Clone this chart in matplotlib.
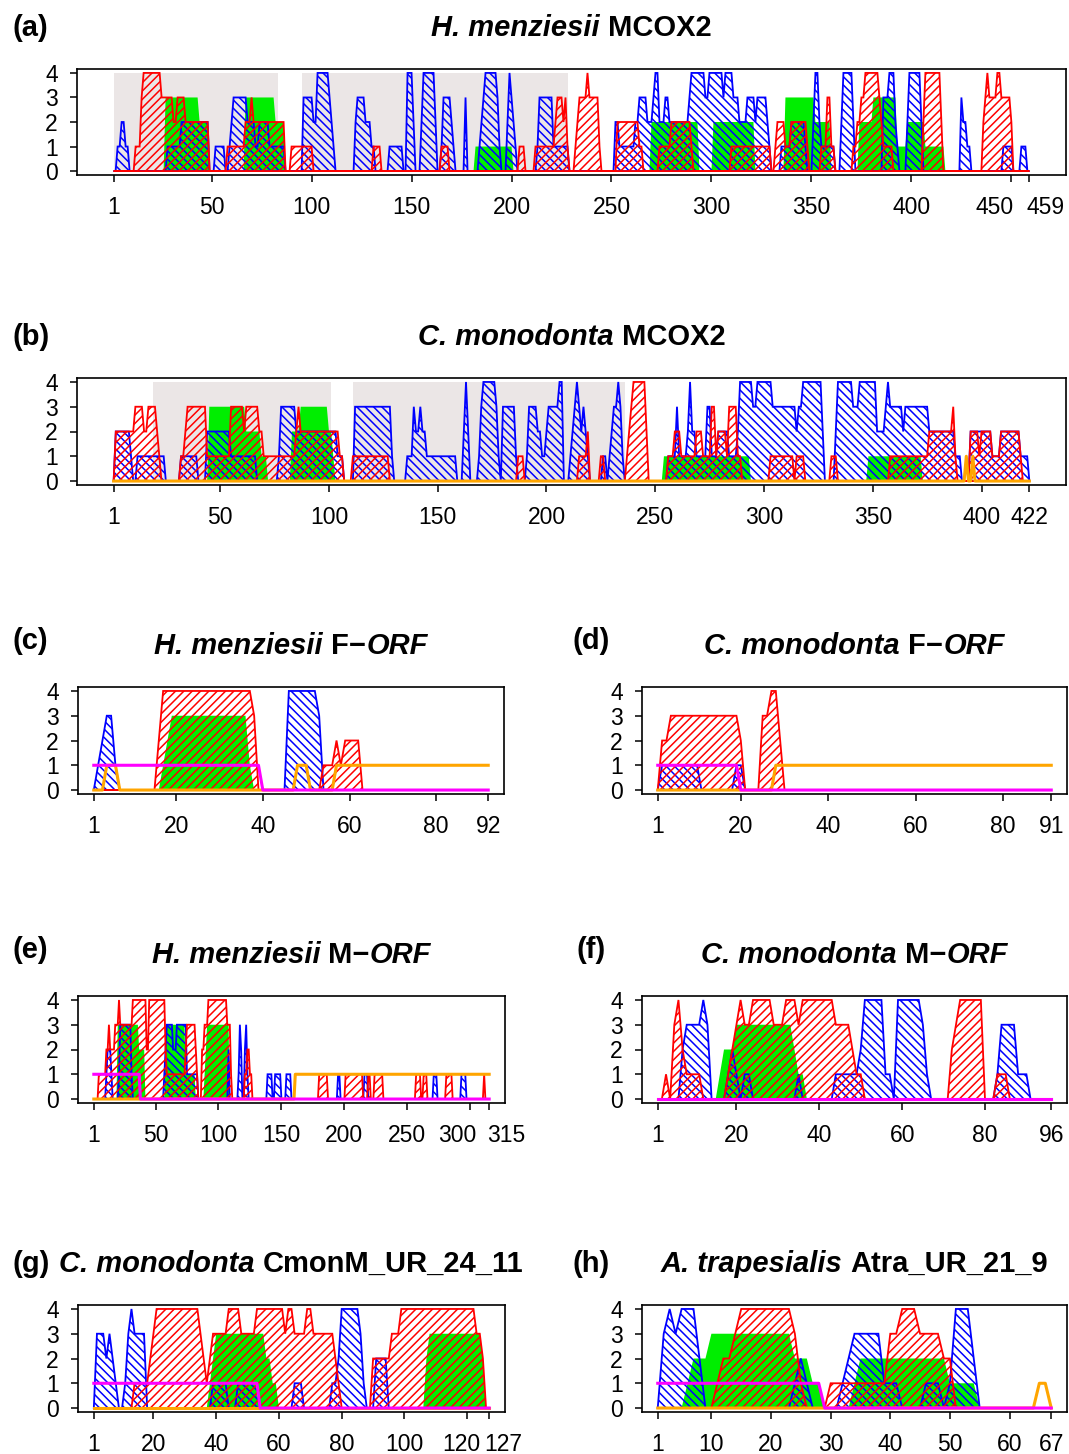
import numpy as np
import matplotlib
matplotlib.use("Agg")
import matplotlib.pyplot as plt
from matplotlib.transforms import ScaledTranslation

plt.rcParams['font.family'] = ['Liberation Sans', 'DejaVu Sans']
plt.rcParams['hatch.linewidth'] = 1.1

W, H, DPI = 1069, 1454, 100

# ------------------------------------------------------------------ data
# runs: (first position, last position, value); positions not covered are 0

# (a) H. menziesii MCOX2
A_N = 459
A_TICKS = [1, 50, 100, 150, 200, 250, 300, 350, 400, 450, 459]
A_GRAY = [(1, 83), (95, 228)]
A_BLUE = [(3, 4, 1), (5, 6, 2), (7, 8, 1),
          (28, 34, 1), (35, 48, 2), (52, 56, 1),
          (59, 59, 1), (60, 60, 2), (61, 67, 3), (68, 71, 2), (72, 73, 1), (74, 78, 2), (79, 86, 1),
          (96, 100, 3), (101, 102, 2), (103, 108, 4), (109, 109, 3), (110, 110, 2), (111, 111, 1),
          (122, 122, 2), (123, 126, 3), (127, 129, 2), (130, 131, 1),
          (139, 145, 1), (148, 150, 4), (151, 151, 2),
          (155, 155, 2), (156, 161, 4), (162, 162, 2),
          (165, 165, 1), (166, 169, 3), (170, 170, 2), (171, 171, 1),
          (177, 177, 3),
          (184, 184, 1), (185, 185, 2), (186, 186, 3), (187, 192, 4), (193, 193, 3), (194, 194, 1),
          (198, 198, 2), (199, 199, 4), (200, 200, 3), (201, 201, 2), (202, 202, 1),
          (213, 213, 1), (214, 220, 3), (221, 228, 1),
          (252, 253, 2), (254, 261, 1), (262, 263, 2), (264, 267, 3), (268, 270, 2), (271, 271, 3),
          (272, 273, 4), (274, 276, 2), (277, 278, 3), (279, 288, 2), (289, 289, 3), (290, 296, 4),
          (297, 298, 3), (299, 305, 4), (306, 306, 3), (307, 310, 4), (311, 313, 3), (314, 317, 2),
          (318, 321, 3), (322, 322, 2), (323, 327, 3), (328, 328, 2), (329, 329, 1),
          (335, 339, 1), (340, 346, 2), (347, 347, 1),
          (351, 351, 2), (352, 353, 4), (354, 354, 2), (355, 361, 1),
          (365, 365, 2), (366, 370, 4), (371, 371, 2),
          (386, 388, 3), (389, 391, 4), (392, 392, 2), (393, 393, 1),
          (398, 398, 2), (399, 404, 4), (405, 405, 2),
          (425, 425, 3), (426, 427, 2), (428, 429, 1),
          (446, 450, 1), (455, 457, 1)]
A_RED = [(12, 14, 1), (15, 15, 3), (16, 24, 4), (25, 30, 3), (31, 32, 2), (33, 36, 3), (37, 48, 2),
         (58, 66, 1), (67, 69, 2), (70, 70, 3), (71, 86, 2),
         (90, 100, 1), (131, 134, 1), (165, 168, 1), (204, 206, 1),
         (212, 221, 1), (222, 222, 2), (223, 225, 3), (226, 226, 2), (227, 227, 3), (228, 228, 1),
         (232, 232, 1), (233, 233, 2), (234, 237, 3), (238, 238, 4), (239, 243, 3), (244, 244, 1),
         (253, 263, 2), (264, 265, 1),
         (274, 279, 1), (280, 289, 2), (290, 290, 1), (310, 329, 1),
         (332, 332, 1), (333, 336, 2), (337, 339, 1), (340, 347, 2), (348, 348, 1),
         (355, 357, 1), (358, 359, 3), (360, 361, 1),
         (371, 372, 1), (373, 374, 2), (375, 376, 3), (377, 383, 4), (384, 384, 3), (385, 385, 2), (386, 390, 1),
         (406, 406, 2), (407, 414, 4), (415, 415, 2),
         (436, 436, 2), (437, 437, 3), (438, 438, 4), (439, 442, 3), (443, 444, 4), (445, 449, 3), (450, 450, 2)]
A_GREEN = [(27, 43, 3), (44, 48, 2), (67, 81, 3), (82, 86, 2), (182, 200, 1),
           (270, 293, 2), (301, 321, 2), (337, 351, 3), (352, 359, 2),
           (374, 380, 2), (381, 392, 3), (393, 397, 1), (398, 406, 2), (407, 416, 1)]

# (b) C. monodonta MCOX2
B_N = 422
B_TICKS = [1, 50, 100, 150, 200, 250, 300, 350, 400, 422]
B_GRAY = [(19, 101), (111, 236)]
B_BLUE = [(2, 8, 2), (9, 9, 1), (12, 24, 1), (32, 39, 1), (44, 54, 2), (55, 66, 1),
          (77, 77, 1), (78, 84, 3), (85, 103, 2), (104, 106, 1),
          (112, 128, 3), (129, 129, 1),
          (136, 138, 1), (139, 139, 3), (140, 141, 2), (142, 142, 3), (143, 144, 2), (145, 158, 1),
          (162, 162, 2), (163, 163, 4), (164, 164, 2),
          (169, 169, 1), (170, 170, 3), (171, 176, 4), (177, 177, 3), (178, 178, 1),
          (180, 185, 3), (186, 186, 1),
          (191, 191, 1), (192, 195, 3), (196, 197, 2), (198, 199, 1), (200, 200, 2), (201, 205, 3), (206, 207, 4),
          (211, 211, 1), (212, 212, 2), (213, 213, 3), (214, 214, 4), (215, 215, 3), (216, 216, 2),
          (217, 217, 3), (218, 218, 2), (219, 219, 1),
          (226, 227, 1), (229, 229, 1), (230, 230, 2), (231, 232, 3), (233, 233, 4), (234, 234, 3), (235, 235, 1),
          (256, 259, 1), (260, 260, 3), (261, 264, 1), (265, 265, 2), (266, 266, 4), (267, 268, 2),
          (269, 273, 1), (274, 275, 3), (276, 278, 1), (279, 283, 2), (284, 287, 1), (288, 288, 2),
          (289, 294, 4), (295, 296, 3), (297, 303, 4), (304, 314, 3), (315, 315, 2), (316, 317, 3),
          (318, 326, 4), (327, 327, 2),
          (333, 333, 2), (334, 340, 4), (341, 343, 3), (344, 351, 4), (352, 355, 2), (356, 356, 3),
          (357, 357, 4), (358, 363, 3), (364, 364, 2), (365, 375, 3), (376, 387, 2), (388, 390, 1),
          (395, 404, 2), (405, 408, 1), (409, 417, 2), (418, 421, 1)]
B_RED = [(2, 10, 2), (11, 14, 3), (15, 16, 2), (17, 20, 3), (21, 21, 2), (22, 22, 1),
         (32, 33, 1), (34, 34, 2), (35, 43, 3), (44, 54, 1), (55, 60, 3), (61, 61, 2), (62, 67, 3),
         (68, 69, 2), (70, 84, 1), (85, 85, 2), (86, 86, 3), (87, 104, 2), (105, 106, 1),
         (111, 127, 1), (187, 189, 1), (215, 218, 1), (219, 219, 2), (225, 226, 1),
         (237, 237, 1), (238, 238, 2), (239, 239, 3), (240, 245, 4), (246, 246, 2),
         (256, 258, 1), (259, 261, 2), (262, 268, 1), (269, 271, 2), (272, 275, 1), (276, 277, 3),
         (278, 278, 1), (279, 282, 2), (283, 283, 1), (284, 287, 3), (288, 289, 1),
         (303, 313, 1), (315, 318, 1), (331, 333, 1),
         (358, 375, 1), (376, 386, 2), (387, 387, 3), (388, 388, 1),
         (395, 398, 2), (399, 399, 1), (400, 404, 2), (405, 408, 1), (409, 417, 2), (418, 418, 1)]
B_GREEN = [(45, 61, 3), (62, 68, 2), (69, 71, 1), (83, 86, 2), (87, 99, 3), (100, 101, 2), (102, 102, 1),
           (254, 293, 1), (348, 372, 1)]
B_ORANGE = [(393, 393, 1), (396, 396, 1)]

# (c) H. menziesii F-ORF
C_N = 92
C_TICKS = [1, 20, 40, 60, 80, 92]
C_BLUE = [(2, 2, 1), (3, 3, 2), (4, 5, 3), (6, 6, 1), (46, 52, 4), (53, 53, 3)]
C_RED = [(16, 16, 2), (17, 37, 4), (38, 38, 3), (54, 56, 1), (57, 57, 2), (58, 58, 1), (59, 62, 2)]
C_GREEN = [(17, 17, 1), (18, 18, 2), (19, 36, 3), (37, 37, 1)]
C_ORANGE = [(4, 6, 1), (48, 50, 1), (57, 92, 1)]
C_MAGENTA = [(1, 39, 1)]

# (d) C. monodonta F-ORF
D_N = 91
D_TICKS = [1, 20, 40, 60, 80, 91]
D_BLUE = [(2, 10, 1), (19, 20, 1)]
D_RED = [(2, 3, 2), (4, 19, 3), (20, 20, 2), (25, 26, 3), (27, 28, 4), (29, 29, 2)]
D_GREEN = []
D_ORANGE = [(28, 91, 1)]
D_MAGENTA = [(1, 19, 1)]

# (e) H. menziesii M-ORF
E_N = 315
E_TICKS = [1, 50, 100, 150, 200, 250, 300, 315]
E_BLUE = [(11, 11, 1), (12, 14, 2), (15, 15, 1), (21, 21, 1), (22, 30, 3), (31, 31, 1),
          (57, 57, 1), (58, 58, 2), (59, 63, 3), (64, 66, 2), (67, 74, 3), (75, 83, 1),
          (108, 108, 2), (116, 116, 1), (117, 117, 3), (118, 118, 2), (121, 121, 2), (122, 122, 3), (123, 123, 1),
          (139, 142, 1), (145, 149, 1), (154, 157, 1), (195, 196, 1), (216, 218, 1),
          (271, 273, 1), (293, 296, 1)]
E_RED = [(5, 10, 1), (11, 12, 2), (13, 13, 3), (14, 17, 2), (18, 20, 3), (21, 21, 4), (22, 29, 3),
         (30, 31, 3), (32, 42, 4), (43, 44, 2), (45, 57, 4), (58, 58, 2), (59, 73, 1), (74, 74, 2),
         (75, 81, 3), (82, 82, 2), (83, 83, 1),
         (87, 88, 2), (89, 91, 3), (92, 106, 4), (107, 109, 3), (110, 110, 1),
         (121, 122, 1), (123, 124, 2), (125, 126, 1),
         (180, 186, 1), (201, 214, 1), (219, 220, 1), (224, 230, 1), (257, 260, 1), (263, 265, 1),
         (281, 285, 1), (311, 311, 1)]
E_GREEN = [(20, 36, 3), (37, 41, 2), (58, 73, 3), (74, 81, 1), (89, 89, 1), (90, 90, 2), (91, 108, 3)]
E_ORANGE = [(161, 315, 1)]
E_MAGENTA = [(1, 37, 1)]

# (f) C. monodonta M-ORF
F_N = 96
F_TICKS = [1, 20, 40, 60, 80, 96]
F_BLUE = [(7, 7, 2), (8, 11, 3), (12, 12, 4), (13, 13, 3),
          (18, 18, 1), (19, 19, 2), (20, 20, 1), (22, 23, 1), (35, 35, 1),
          (44, 49, 1), (50, 50, 2), (51, 55, 4), (56, 57, 1),
          (59, 64, 4), (65, 65, 3), (66, 66, 1),
          (83, 83, 1), (84, 87, 3), (88, 90, 1)]
F_RED = [(3, 3, 1), (5, 5, 3), (6, 6, 4), (7, 7, 2), (8, 11, 1),
         (18, 18, 1), (19, 19, 2), (20, 20, 3), (21, 21, 4), (22, 23, 3), (24, 28, 4), (29, 31, 3),
         (32, 34, 4), (35, 35, 3), (36, 43, 4), (44, 47, 3), (48, 48, 2), (49, 50, 1),
         (72, 72, 2), (73, 73, 3), (74, 79, 4), (83, 85, 1)]
F_GREEN = [(16, 16, 1), (17, 19, 2), (20, 33, 3), (34, 34, 2), (35, 36, 1)]
F_ORANGE = []
F_MAGENTA = []

# (g) C. monodonta CmonM_UR_24_11
G_N = 127
G_TICKS = [1, 20, 40, 60, 80, 100, 120, 127]
G_BLUE = [(2, 4, 3), (5, 5, 2), (6, 6, 3), (7, 7, 2), (8, 8, 1),
          (11, 11, 1), (12, 12, 3), (13, 13, 4), (14, 17, 3),
          (39, 43, 1), (47, 53, 1), (65, 67, 1),
          (77, 78, 1), (79, 79, 2), (80, 85, 4), (86, 86, 3), (87, 87, 1), (91, 94, 2)]
G_RED = [(14, 18, 1), (19, 19, 2), (20, 20, 3), (21, 34, 4), (35, 35, 3), (36, 36, 2), (37, 37, 1),
         (38, 38, 2), (39, 43, 3), (44, 47, 4), (48, 52, 3), (53, 61, 4), (62, 62, 3), (63, 64, 4),
         (65, 68, 3), (69, 70, 4), (71, 77, 3), (78, 78, 2), (79, 79, 1),
         (90, 95, 2), (96, 98, 3), (99, 122, 4), (123, 124, 3), (125, 125, 2)]
G_GREEN = [(38, 38, 1), (39, 39, 2), (40, 55, 3), (56, 57, 2), (58, 59, 1),
           (107, 107, 2), (108, 124, 3), (125, 125, 2)]
G_ORANGE = []
G_MAGENTA = [(1, 53, 1)]

# (h) A. trapesialis Atra_UR_21_9
H_N = 67
H_TICKS = [1, 10, 20, 30, 40, 50, 60, 67]
H_BLUE = [(2, 2, 3), (3, 3, 4), (4, 4, 3), (5, 7, 4), (8, 8, 2),
          (24, 24, 1), (25, 25, 2), (26, 26, 1),
          (32, 32, 1), (33, 33, 2), (34, 38, 3), (39, 41, 1),
          (46, 48, 1), (50, 50, 1), (51, 53, 4), (54, 54, 2)]
H_RED = [(11, 11, 1), (12, 13, 2), (14, 14, 3), (15, 23, 4), (24, 24, 3), (25, 25, 1),
         (30, 39, 1), (40, 41, 3), (42, 44, 4), (45, 48, 3), (49, 50, 2)]
H_GREEN = [(6, 6, 1), (7, 9, 2), (10, 23, 3), (24, 26, 2), (27, 28, 1),
           (34, 34, 1), (35, 49, 2), (50, 54, 1)]
H_ORANGE = [(65, 66, 1)]
H_MAGENTA = [(1, 28, 1)]

MINUS = "\u2212"
TITLES = {
    'a': [("H. menziesii", True), (" ", False), ("MCOX2", False)],
    'b': [("C. monodonta", True), (" ", False), ("MCOX2", False)],
    'c': [("H. menziesii", True), (" ", False), ("F" + MINUS, False), ("ORF", True)],
    'd': [("C. monodonta", True), (" ", False), ("F" + MINUS, False), ("ORF", True)],
    'e': [("H. menziesii", True), (" ", False), ("M" + MINUS, False), ("ORF", True)],
    'f': [("C. monodonta", True), (" ", False), ("M" + MINUS, False), ("ORF", True)],
    'g': [("C. monodonta", True), (" ", False), ("CmonM_UR_24_11", False)],
    'h': [("A. trapesialis", True), (" ", False), ("Atra_UR_21_9", False)],
}

# ------------------------------------------------------------------ style / layout
GRAY = '#ebe6e6'
GREEN = '#00ee00'
BLUE = '#0000ff'
RED = '#ff0000'
ORANGE = '#ffa500'
MAGENTA = '#ff00ff'
TICK_FS = 16.5
TITLE_FS = 21

PANELS = [
    dict(k='a', n=A_N, ticks=A_TICKS, gray=A_GRAY, blue=A_BLUE, red=A_RED, green=A_GREEN,
         orange=None, magenta=None, box=(77, 69, 1066, 175), labx=12, labdy=0, tdx={450: -17, 459: 16}),
    dict(k='b', n=B_N, ticks=B_TICKS, gray=B_GRAY, blue=B_BLUE, red=B_RED, green=B_GREEN,
         orange=B_ORANGE, magenta=None, box=(77, 378, 1066, 485), labx=12, labdy=0, tdx={}),
    dict(k='c', n=C_N, ticks=C_TICKS, gray=[], blue=C_BLUE, red=C_RED, green=C_GREEN,
         orange=C_ORANGE, magenta=C_MAGENTA, box=(78, 687, 504, 794), labx=12, labdy=-5, tdx={}),
    dict(k='d', n=D_N, ticks=D_TICKS, gray=[], blue=D_BLUE, red=D_RED, green=D_GREEN,
         orange=D_ORANGE, magenta=D_MAGENTA, box=(642, 687, 1067, 794), labx=573, labdy=-5, tdx={}),
    dict(k='e', n=E_N, ticks=E_TICKS, gray=[], blue=E_BLUE, red=E_RED, green=E_GREEN,
         orange=E_ORANGE, magenta=E_MAGENTA, box=(78, 996, 505, 1103), labx=12, labdy=-5,
         tdx={300: -13, 315: 17}),
    dict(k='f', n=F_N, ticks=F_TICKS, gray=[], blue=F_BLUE, red=F_RED, green=F_GREEN,
         orange=F_ORANGE, magenta=F_MAGENTA, box=(642, 996, 1067, 1103), labx=576, labdy=-5, tdx={}),
    dict(k='g', n=G_N, ticks=G_TICKS, gray=[], blue=G_BLUE, red=G_RED, green=G_GREEN,
         orange=G_ORANGE, magenta=G_MAGENTA, box=(78, 1305, 505, 1412), labx=12, labdy=0,
         tdx={120: -6, 127: 14}),
    dict(k='h', n=H_N, ticks=H_TICKS, gray=[], blue=H_BLUE, red=H_RED, green=H_GREEN,
         orange=H_ORANGE, magenta=H_MAGENTA, box=(642, 1305, 1067, 1412), labx=573, labdy=0, tdx={}),
]


def expand(n, runs):
    y = np.zeros(n)
    for s, e, v in runs:
        y[s - 1:e] = v
    return y


fig = plt.figure(figsize=(W / DPI, H / DPI), dpi=DPI)
fig.patch.set_facecolor('white')
renderer = fig.canvas.get_renderer()


def text_width(s, italic):
    t = fig.text(0, 0, s, fontsize=TITLE_FS, fontweight='bold',
                 fontstyle='italic' if italic else 'normal')
    w = t.get_window_extent(renderer).width
    t.remove()
    return w


SPACE_W = text_width("H H", False) - text_width("HH", False)


def draw_title(parts, cx, base_y):
    widths = [SPACE_W if s == " " else text_width(s, it) for s, it in parts]
    x = cx - sum(widths) / 2.0
    for (s, it), w in zip(parts, widths):
        if s != " ":
            fig.text(x / W, 1 - base_y / H, s, fontsize=TITLE_FS, fontweight='bold',
                     fontstyle='italic' if it else 'normal', ha='left', va='baseline')
        x += w


for p in PANELS:
    l, t, r, b = p['box']
    ax = fig.add_axes([l / W, 1 - b / H, (r - l) / W, (b - t) / H])
    n = p['n']
    x = np.arange(1, n + 1)
    ext = 0.04 * (n - 1)
    ax.set_xlim(1 - ext, n + ext)
    ax.set_ylim(-0.16, 4.16)
    xs = np.r_[1, x, n]
    for s, e in p['gray']:
        ax.fill([s, e, e, s], [0, 0, 4, 4], facecolor=GRAY, edgecolor='none', lw=0, zorder=1)
    if p['green']:
        ax.fill(xs, np.r_[0, expand(n, p['green']), 0], facecolor=GREEN, edgecolor='none',
                lw=0, zorder=2)
    ax.fill(xs, np.r_[0, expand(n, p['blue']), 0], facecolor='none', edgecolor=BLUE,
            hatch='\\\\\\\\', lw=1.3, zorder=3)
    ax.fill(xs, np.r_[0, expand(n, p['red']), 0], facecolor='none', edgecolor=RED,
            hatch='////', lw=1.3, zorder=4)
    if p['orange'] is not None:
        ax.plot(x, expand(n, p['orange']), color=ORANGE, lw=2.2, zorder=5)
    if p['magenta'] is not None:
        ax.plot(x, expand(n, p['magenta']), color=MAGENTA, lw=2.2, zorder=6)

    ax.set_xticks(p['ticks'])
    ax.set_xticklabels([str(v) for v in p['ticks']])
    ax.set_yticks([0, 1, 2, 3, 4])
    ax.set_yticklabels(['0', '1', '2', '3', '4'])
    ax.tick_params(axis='both', direction='out', length=5.3, width=1.1, labelsize=TICK_FS)
    ax.tick_params(axis='x', pad=9.5)
    ax.tick_params(axis='y', pad=8.5)
    for sp in ax.spines.values():
        sp.set_linewidth(1.2)
    for v, tk in zip(p['ticks'], ax.xaxis.get_major_ticks()):
        if v in p['tdx']:
            off = ScaledTranslation(p['tdx'][v] / DPI, 0, fig.dpi_scale_trans)
            tk.label1.set_transform(tk.label1.get_transform() + off)

    base = t - 33
    draw_title(TITLES[p['k']], (l + r) / 2.0, base)
    fig.text(p['labx'] / W, 1 - (base + p['labdy']) / H, '(%s)' % p['k'], fontsize=TITLE_FS,
             fontweight='bold', ha='left', va='baseline')

fig.savefig('out.png', dpi=DPI, facecolor='white')
